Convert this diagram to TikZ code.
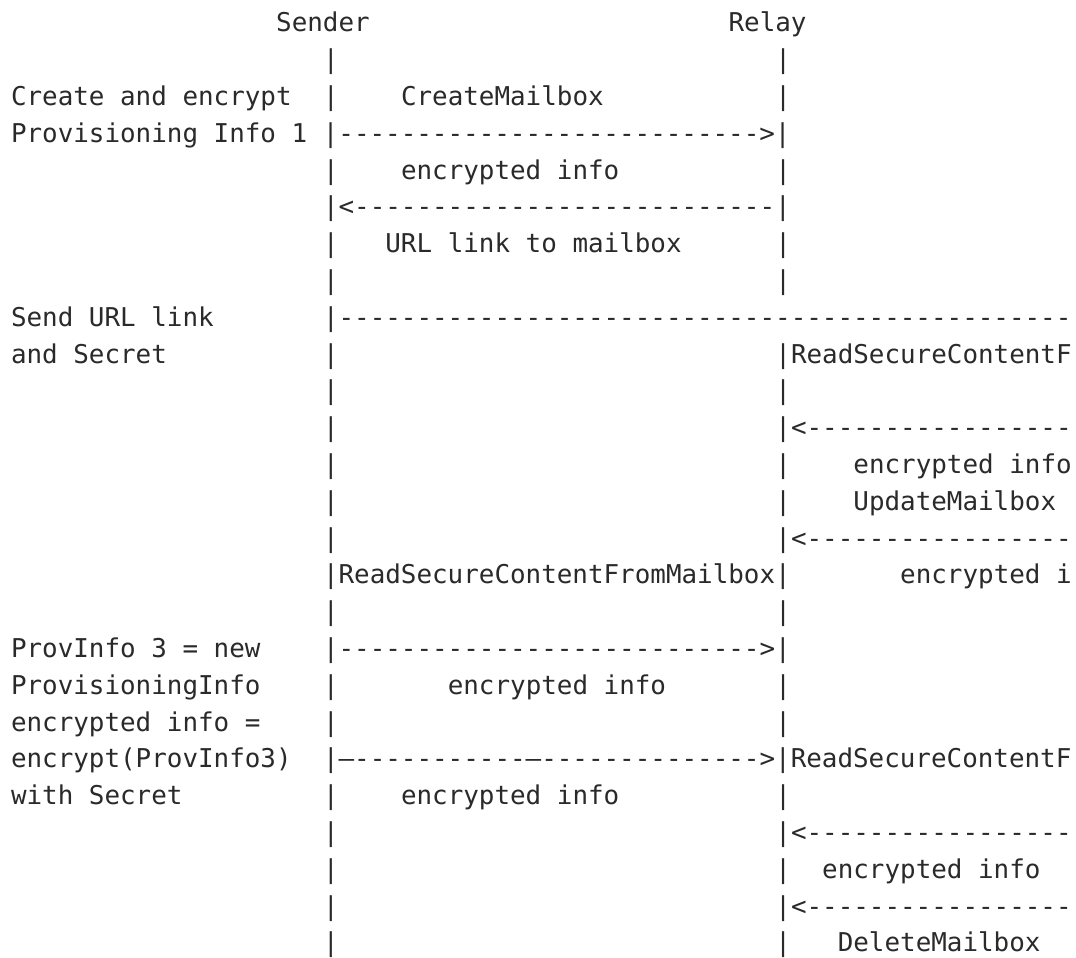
\documentclass[tikz,border=0pt]{standalone}
\usepackage{fontspec}
\newfontfamily\asciifont{DejaVu Sans Mono}[Ligatures=TeXOff]
\definecolor{ink}{HTML}{2A2A2A}
% one text fragment of the flow: name, row (1 = top), column, text
\newcommand\frag[4]{%
  \node[txt] (#1) at ({11+15.6*#3},{-31.9-36.8*(#2-1)}) {#4};}
\begin{document}
\begin{tikzpicture}[x=1pt,y=1pt,
  txt/.style={anchor=base west,inner sep=0pt,outer sep=0pt,text=ink,
    font=\asciifont\fontsize{25.9pt}{30pt}\selectfont}]
\useasboundingbox (0,0) rectangle (1076,-958);
\fill[white] (0,0) rectangle (1076,-958);
\clip (0,0) rectangle (1076,-958);
% parties
\frag{sender}{1}{17}{Sender}
\frag{relay}{1}{46}{Relay}
\frag{r2a}{2}{20}{|}
\frag{r2b}{2}{49}{|}
% mailbox creation
\frag{r3t}{3}{0}{Create and encrypt}
\frag{r3a}{3}{20}{|}
\frag{r3m}{3}{25}{CreateMailbox}
\frag{r3b}{3}{49}{|}
\frag{r4}{4}{0}{Provisioning Info 1 |--------------------------->|}
\frag{r5a}{5}{20}{|}
\frag{r5m}{5}{25}{encrypted info}
\frag{r5b}{5}{49}{|}
\frag{r6}{6}{20}{|<---------------------------|}
\frag{r7a}{7}{20}{|}
\frag{r7m}{7}{24}{URL link to mailbox}
\frag{r7b}{7}{49}{|}
\frag{r8a}{8}{20}{|}
\frag{r8b}{8}{49}{|}
% link and secret handed over
\frag{r9t}{9}{0}{Send URL link}
\frag{r9}{9}{20}{|-----------------------------------------------}
\frag{r10t}{10}{0}{and Secret}
\frag{r10a}{10}{20}{|}
\frag{r10b}{10}{49}{|ReadSecureContentF}
\frag{r11a}{11}{20}{|}
\frag{r11b}{11}{49}{|}
\frag{r12a}{12}{20}{|}
\frag{r12b}{12}{49}{|<-----------------}
\frag{r13a}{13}{20}{|}
\frag{r13b}{13}{49}{|}
\frag{r13m}{13}{54}{encrypted info}
\frag{r14a}{14}{20}{|}
\frag{r14b}{14}{49}{|}
\frag{r14m}{14}{54}{UpdateMailbox}
\frag{r15a}{15}{20}{|}
\frag{r15b}{15}{49}{|<-----------------}
\frag{r16}{16}{20}{|ReadSecureContentFromMailbox|}
\frag{r16m}{16}{57}{encrypted i}
\frag{r17a}{17}{20}{|}
\frag{r17b}{17}{49}{|}
% new provisioning info
\frag{r18t}{18}{0}{ProvInfo 3 = new}
\frag{r18}{18}{20}{|--------------------------->|}
\frag{r19t}{19}{0}{ProvisioningInfo}
\frag{r19a}{19}{20}{|}
\frag{r19m}{19}{28}{encrypted info}
\frag{r19b}{19}{49}{|}
\frag{r20t}{20}{0}{encrypted info =}
\frag{r20a}{20}{20}{|}
\frag{r20b}{20}{49}{|}
\frag{r21t}{21}{0}{encrypt(ProvInfo3)}
\frag{r21}{21}{20}{|—-----------—-------------->|ReadSecureContentF}
\frag{r22t}{22}{0}{with Secret}
\frag{r22a}{22}{20}{|}
\frag{r22m}{22}{25}{encrypted info}
\frag{r22b}{22}{49}{|}
\frag{r23a}{23}{20}{|}
\frag{r23b}{23}{49}{|<-----------------}
\frag{r24a}{24}{20}{|}
\frag{r24b}{24}{49}{|}
\frag{r24m}{24}{52}{encrypted info}
\frag{r25a}{25}{20}{|}
\frag{r25b}{25}{49}{|<-----------------}
\frag{r26a}{26}{20}{|}
\frag{r26b}{26}{49}{|}
\frag{r26m}{26}{53}{DeleteMailbox}
\end{tikzpicture}
\end{document}
